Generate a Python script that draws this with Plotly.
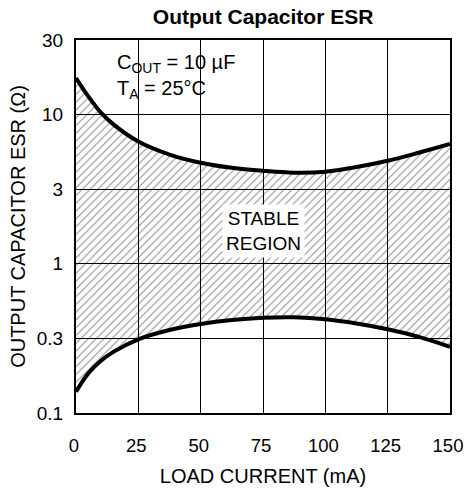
import math
import plotly.graph_objects as go

# Data
load_ma = [0, 5, 10, 15, 25, 37.5, 50, 62.5, 75, 87.5, 100, 112.5, 125, 137.5, 150]
esr_upper = [17.6, 13.2, 10.3, 8.6, 6.6, 5.4, 4.76, 4.4, 4.2, 4.08, 4.14, 4.45, 4.9, 5.55, 6.35]
esr_lower = [0.139, 0.185, 0.224, 0.257, 0.312, 0.36, 0.395, 0.42, 0.435, 0.438, 0.425, 0.398, 0.364, 0.324, 0.278]

x_ticks = [0, 25, 50, 75, 100, 125, 150]
y_tickvals = [0.1, 0.316228, 1, 3.16228, 10, 31.6228]
y_ticktext = ["0.1", "0.3", "1", "3", "10", "30"]

region_label_x = 75
region_label_y = 1.66

FONT = "Liberation Sans, Arial, Helvetica, sans-serif"

fig = go.Figure()
fig.add_trace(go.Scatter(
    x=load_ma, y=esr_lower, mode="lines",
    line=dict(color="black", width=4, shape="spline"),
    showlegend=False, hoverinfo="skip"))
fig.add_trace(go.Scatter(
    x=load_ma, y=esr_upper, mode="lines",
    line=dict(color="black", width=4, shape="spline"),
    fill="tonexty", fillcolor="rgba(0,0,0,0)",
    fillpattern=dict(shape="/", fgcolor="#222222", bgcolor="rgba(0,0,0,0)",
                     size=5.5, solidity=0.2),
    showlegend=False, hoverinfo="skip"))

# log axis: annotation y is given in log10 units
fig.add_annotation(x=region_label_x, y=math.log10(region_label_y), text="STABLE<br>REGION",
                   showarrow=False, font=dict(family=FONT, size=19, color="black"),
                   bgcolor="white", borderpad=3)
fig.add_annotation(x=0.105, y=0.975, xref="paper", yref="paper", xanchor="left", yanchor="top",
                   align="left", showarrow=False,
                   text="C<sub>OUT</sub> = 10 \u00b5F<br>T<sub>A</sub> = 25\u00b0C",
                   font=dict(family=FONT, size=20, color="black"))

fig.update_layout(
    width=464, height=493,
    margin=dict(l=76, r=14, t=40, b=80, autoexpand=False),
    paper_bgcolor="white", plot_bgcolor="white",
    font=dict(family=FONT, color="black", size=19),
    title=dict(text="<b>Output Capacitor ESR</b>", x=0.567, xanchor="center",
               y=0.967, yanchor="middle", font=dict(family=FONT, size=21, color="black")),
    xaxis=dict(range=[0, 150], tickvals=x_ticks,
               showgrid=True, gridcolor="black", gridwidth=1.2,
               showline=True, linecolor="black", linewidth=2, mirror=True, zeroline=False,
               ticks="", ticklabelstandoff=15, tickfont=dict(size=18.5),
               ticklabelshift=-2,
               ticklabeloverflow="allow", automargin=False,
               title=dict(text="LOAD CURRENT (mA)", font=dict(size=20), standoff=14)),
    yaxis=dict(type="log", range=[-1, 1.5], tickvals=y_tickvals, ticktext=y_ticktext,
               showgrid=True, gridcolor="black", gridwidth=1.2,
               showline=True, linecolor="black", linewidth=2, mirror=True, zeroline=False,
               ticks="", ticklabelstandoff=7, tickfont=dict(size=19),
               ticklabeloverflow="allow", automargin=False,
               title=dict(text="OUTPUT CAPACITOR ESR (\u03a9)", font=dict(size=20), standoff=6)),
)

fig.write_html("out.html", config={"displayModeBar": False},
               post_script="document.body.style.margin='0';document.body.style.padding='0';")
